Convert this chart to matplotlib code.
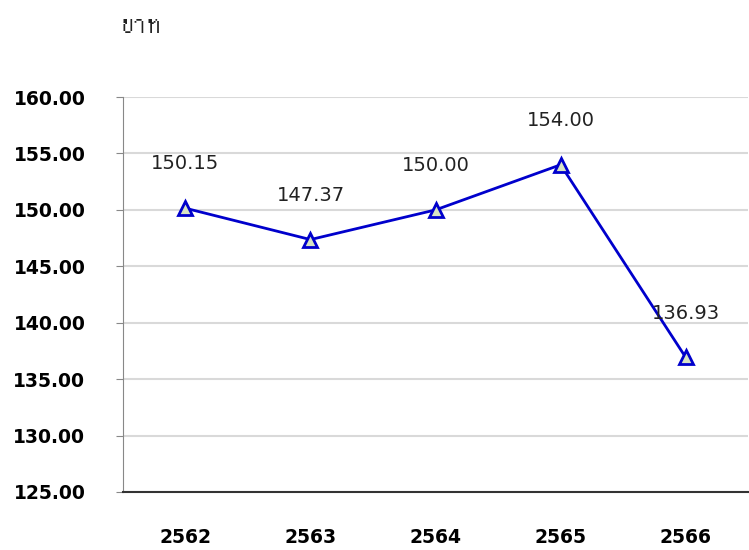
import matplotlib
matplotlib.use("Agg")
import matplotlib.pyplot as plt
from matplotlib import font_manager
from matplotlib.ft2font import FT2Font

# Daten
years = ["2562", "2563", "2564", "2565", "2566"]
prices = [150.15, 147.37, 150.00, 154.00, 136.93]
unit_label = "บาท"
y_ticks = [125, 130, 135, 140, 145, 150, 155, 160]

# Schrift mit Thai-Glyphen suchen
thai_font = None
for path in font_manager.findSystemFonts():
    try:
        if ord("บ") in FT2Font(path).get_charmap():
            thai_font = font_manager.FontProperties(fname=path).get_name()
            break
    except Exception:
        pass
unit_family = [thai_font, "DejaVu Sans"] if thai_font else ["DejaVu Sans"]

fig = plt.figure(figsize=(7.49, 5.5), dpi=100)
ax = fig.add_axes([0.164, 0.1055, 0.835, 0.718])

x = range(len(years))
ax.plot(x, prices, color="#0000CC", linewidth=2, marker="^", markersize=10,
        markerfacecolor="#D8E4C4", markeredgecolor="#0000CC", markeredgewidth=2,
        zorder=3)

for xi, v in zip(x, prices):
    ax.annotate(f"{v:.2f}", (xi, v), xytext=(0, 25), textcoords="offset points",
                ha="center", va="bottom", fontsize=14, color="#222222")

ax.set_xlim(-0.5, 4.5)
ax.set_ylim(125, 160)
ax.set_yticks(y_ticks)
ax.set_yticklabels([f"{t:.2f}" for t in y_ticks], fontsize=13.5, fontweight="bold")
ax.set_xticks(list(x))
ax.set_xticklabels(years, fontsize=13.5, fontweight="bold")
ax.tick_params(axis="x", length=0, pad=26)
ax.tick_params(axis="y", length=5, color="#888888", pad=22, direction="out")

ax.grid(axis="y", color="#D9D9D9", linewidth=1.5)
ax.set_axisbelow(True)
ax.spines["top"].set_visible(False)
ax.spines["right"].set_visible(False)
ax.spines["left"].set_color("#888888")
ax.spines["bottom"].set_color("#333333")
ax.spines["bottom"].set_linewidth(1.5)

fig.text(0.16, 0.955, unit_label, fontsize=20, family=unit_family,
         ha="left", va="center", color="#222222")

plt.savefig("out.png", dpi=100)
